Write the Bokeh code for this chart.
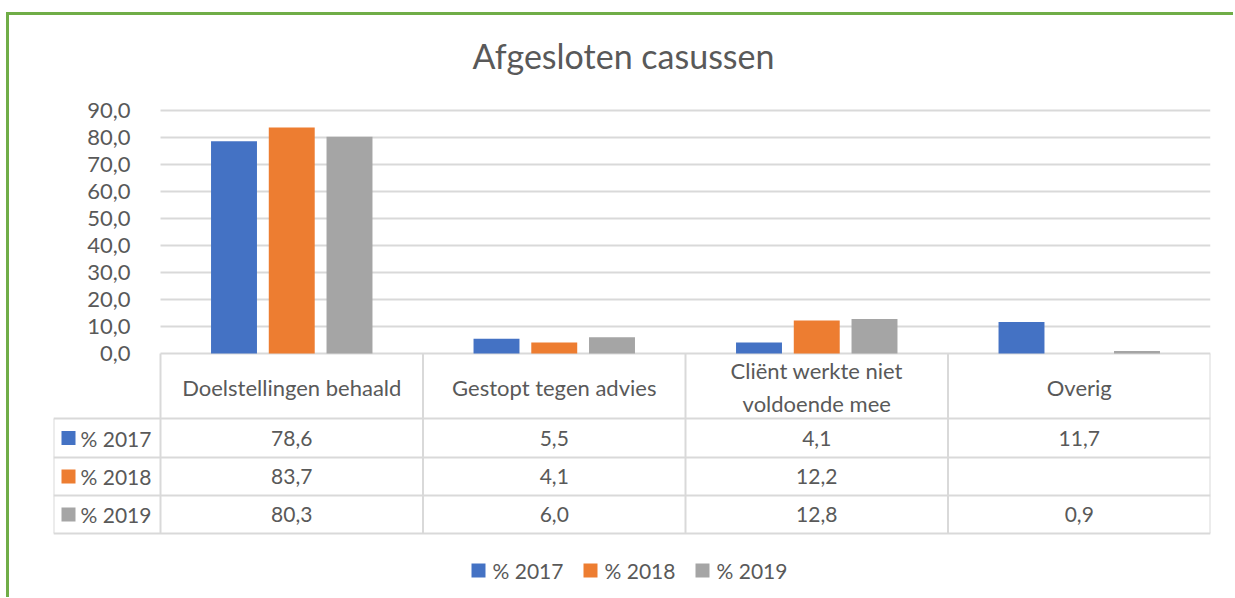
from bokeh.plotting import figure
from bokeh.models import Range1d, FixedTicker, Spacer
from bokeh.layouts import column, row
from bokeh.core.properties import value
from bokeh.embed import file_html
from bokeh.resources import INLINE

# ---------------- data ----------------
title_text = "Afgesloten casussen"
categories = ["Doelstellingen behaald", "Gestopt tegen advies",
              "Cliënt werkte niet\nvoldoende mee", "Overig"]
series_names = ["% 2017", "% 2018", "% 2019"]
values_2017 = [78.6, 5.5, 4.1, 11.7]
values_2018 = [83.7, 4.1, 12.2, None]
values_2019 = [80.3, 6.0, 12.8, 0.9]
y_ticks = [0, 10, 20, 30, 40, 50, 60, 70, 80, 90]
y_tick_labels = ["0,0", "10,0", "20,0", "30,0", "40,0", "50,0", "60,0", "70,0", "80,0", "90,0"]
colors = ["#4472C4", "#ED7D31", "#A5A5A5"]

all_series = [values_2017, values_2018, values_2019]

# ---------------- styling / layout constants ----------------
FONT = "Lato"
TXT = "#595959"
GRID = "#D9D9D9"
PXX = 262.5          # pixels per category (x)
PXY = 2.7            # pixels per value unit (y)
LEFTCOL = 107 / PXX  # legend-key column of the data table
N = len(categories)

W = 1224
H = 582
TOP_PX = 338         # pixels from frame top to the zero line
BOTTOM_PX = H - TOP_PX


def py(px_below_zero):
    """pixel distance below the zero line -> y value"""
    return -px_below_zero / PXY


def fmt(v):
    return "" if v is None else f"{v:.1f}".replace(".", ",")


p = figure(width=W, height=H,
           x_range=Range1d(-LEFTCOL, N),
           y_range=Range1d(py(BOTTOM_PX), TOP_PX / PXY),
           output_backend="svg", toolbar_location=None,
           min_border_left=44, min_border_right=W - 44 - 1157,
           min_border_top=0, min_border_bottom=0, x_axis_location=None)
p.outline_line_color = None
p.grid.visible = False

# y axis anchored at the left edge of the category area
p.yaxis.fixed_location = 0
p.yaxis.ticker = FixedTicker(ticks=y_ticks)
p.yaxis.major_label_overrides = dict(zip(y_ticks, y_tick_labels))
p.yaxis.axis_line_color = None
p.yaxis.major_tick_line_color = None
p.yaxis.minor_tick_line_color = None
p.yaxis.major_label_standoff = 24
p.yaxis.major_label_text_font = FONT
p.yaxis.major_label_text_font_size = "22px"
p.yaxis.major_label_text_color = TXT

# horizontal gridlines over the category area
p.segment(x0=[0] * len(y_ticks), y0=y_ticks, x1=[N] * len(y_ticks), y1=y_ticks,
          line_color=GRID, line_width=2, level="underlay")

# title
p.text(x=[(623 - 160) / PXX], y=[90 + 55 / PXY], text=[title_text],
       text_align="center", text_baseline="middle", text_font=value(FONT),
       text_font_size="34px", text_color=TXT)

# bars
offsets = [-0.22, 0.0, 0.22]
for vals, col, off in zip(all_series, colors, offsets):
    xs = [i + 0.5 + off for i, v in enumerate(vals) if v is not None]
    tops = [v for v in vals if v is not None]
    p.vbar(x=xs, top=tops, bottom=0, width=0.175, fill_color=col, line_color=None)

# ---------------- data table ----------------
header_px = 65
row_px = [39, 38, 38]
edges_px = [header_px]
for h in row_px:
    edges_px.append(edges_px[-1] + h)
edges = [py(e) for e in edges_px]
bottom = edges[-1]

vx = list(range(N + 1))
p.segment(x0=vx, y0=[0] * len(vx), x1=vx, y1=[bottom] * len(vx),
          line_color=GRID, line_width=2)
p.segment(x0=[-LEFTCOL], y0=[edges[0]], x1=[-LEFTCOL], y1=[bottom],
          line_color=GRID, line_width=2)
p.segment(x0=[-LEFTCOL] * len(edges), y0=edges, x1=[N] * len(edges), y1=edges,
          line_color=GRID, line_width=2)

p.text(x=[i + 0.5 for i in range(N)], y=[py(header_px / 2 + 1)] * N,
       text=categories, text_align="center", text_baseline="middle",
       text_font=value(FONT), text_font_size="22px", text_color=TXT,
       text_line_height=1.25)

for r, (vals, col, name) in enumerate(zip(all_series, colors, series_names)):
    yc = py((edges_px[r] + edges_px[r + 1]) / 2)
    p.text(x=[i + 0.5 for i in range(N)], y=[yc] * N,
           text=[fmt(v) for v in vals], text_align="center", text_baseline="middle",
           text_font=value(FONT), text_font_size="21px", text_color=TXT)
    p.scatter(x=[-LEFTCOL + 15 / PXX], y=[yc], marker="square", size=14,
              fill_color=col, line_color=None)
    p.text(x=[-LEFTCOL + 27 / PXX], y=[yc], text=[name], text_align="left",
           text_baseline="middle", text_font=value(FONT), text_font_size="21px",
           text_color=TXT)

# ---------------- legend ----------------
leg_y = py(570 - 353)
leg_x = [(478 - 160) / PXX, (590 - 160) / PXX, (702 - 160) / PXX]
p.scatter(x=leg_x, y=[leg_y] * 3, marker="square", size=14, fill_color=colors,
          line_color=None)
p.text(x=[x + 14 / PXX for x in leg_x], y=[leg_y] * 3, text=series_names,
       text_align="left", text_baseline="middle", text_font=value(FONT),
       text_font_size="21px", text_color=TXT)

framed = column(p, styles={"border-top": "3px solid #70AD47",
                           "border-left": "3px solid #70AD47"})
root = column(Spacer(height=12, width=10),
              row(Spacer(width=6, height=10), framed))

open("out.html", "w").write(file_html(root, INLINE))
